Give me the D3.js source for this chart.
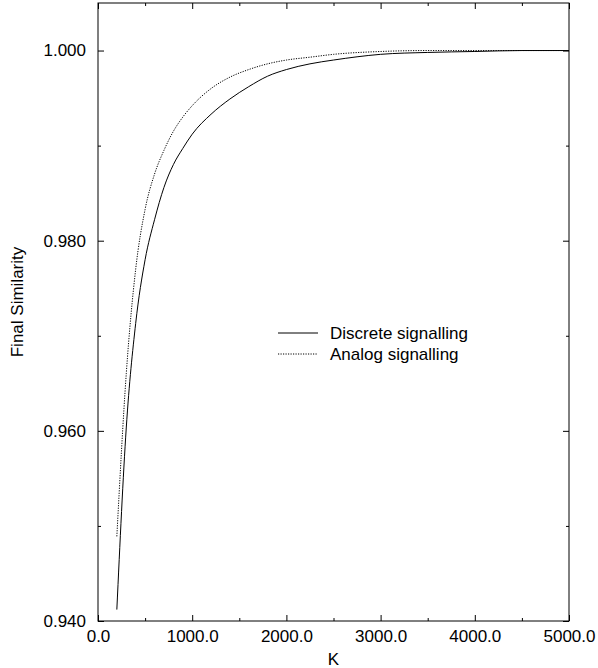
<!DOCTYPE html>
<html>
<head>
<meta charset="utf-8">
<script src="https://cdn.jsdelivr.net/npm/d3@7"></script>
<style>
  html, body { margin: 0; padding: 0; background: #fff; }
  svg { display: block; font-family: "Liberation Sans", Arial, sans-serif; }
</style>
</head>
<body>
<svg width="598" height="668"></svg>
<script>
"use strict";

// K values (x) and the two series
const kValues = [200, 300, 400, 500, 600, 700, 800, 900, 1000, 1200, 1400, 1600,
                 1800, 2000, 2250, 2500, 3000, 3500, 4000, 4500, 5000];
const discrete = [0.9412, 0.9603, 0.9713, 0.9780, 0.9822, 0.9856, 0.9880, 0.9897,
                  0.9912, 0.9933, 0.9949, 0.9962, 0.9973, 0.9980, 0.9986, 0.9990,
                  0.9996, 0.9998, 0.9999, 1.0000, 1.0000];
const analog = [0.9489, 0.9660, 0.9770, 0.9833, 0.9870, 0.9895, 0.9915, 0.9930,
                0.9942, 0.9960, 0.9972, 0.9980, 0.9986, 0.9990, 0.9993, 0.9996,
                0.9999, 1.0000, 1.0000, 1.0000, 1.0000];
const seriesNames = ["Discrete signalling", "Analog signalling"];

const xMajor = [0, 1000, 2000, 3000, 4000, 5000];
const xMinor = [500, 1500, 2500, 3500, 4500];
const yMajor = [0.94, 0.96, 0.98, 1.0];
const yMinor = [0.95, 0.97, 0.99];

const plotL = 98, plotR = 569, plotT = 3, plotB = 621;

const svg = d3.select("svg");

const xScale = d3.scaleLinear().domain([0, 5000]).range([plotL, plotR]);
const yScale = d3.scaleLinear().domain([0.94, 1.005]).range([plotB, plotT]);

function styleAxis(g) {
    g.select(".domain").remove();
    g.selectAll("line").attr("stroke", "#000").attr("stroke-width", 1);
    g.selectAll("text").attr("fill", "#000").attr("font-size", 17)
        .attr("font-family", "'Liberation Sans', Arial, sans-serif");
}

// bottom: labelled major ticks + minor ticks
svg.append("g")
    .attr("transform", `translate(0,${plotB})`)
    .call(d3.axisBottom(xScale).tickValues(xMajor).tickSizeInner(-6).tickSizeOuter(0)
        .tickPadding(9).tickFormat(d3.format(".1f")))
    .call(styleAxis);
svg.append("g")
    .attr("transform", `translate(0,${plotB})`)
    .call(d3.axisBottom(xScale).tickValues(xMinor).tickSizeInner(-3).tickSizeOuter(0).tickFormat(""))
    .call(styleAxis);

// top mirror ticks
svg.append("g")
    .attr("transform", `translate(0,${plotT})`)
    .call(d3.axisTop(xScale).tickValues(xMajor).tickSizeInner(-6).tickSizeOuter(0).tickFormat(""))
    .call(styleAxis);
svg.append("g")
    .attr("transform", `translate(0,${plotT})`)
    .call(d3.axisTop(xScale).tickValues(xMinor).tickSizeInner(-3).tickSizeOuter(0).tickFormat(""))
    .call(styleAxis);

// left axis
svg.append("g")
    .attr("transform", `translate(${plotL},0)`)
    .call(d3.axisLeft(yScale).tickValues(yMajor).tickSizeInner(-6).tickSizeOuter(0)
        .tickPadding(12).tickFormat(d3.format(".3f")))
    .call(styleAxis);
svg.append("g")
    .attr("transform", `translate(${plotL},0)`)
    .call(d3.axisLeft(yScale).tickValues(yMinor).tickSizeInner(-3).tickSizeOuter(0).tickFormat(""))
    .call(styleAxis);

// right mirror ticks
svg.append("g")
    .attr("transform", `translate(${plotR},0)`)
    .call(d3.axisRight(yScale).tickValues(yMajor).tickSizeInner(-6).tickSizeOuter(0).tickFormat(""))
    .call(styleAxis);
svg.append("g")
    .attr("transform", `translate(${plotR},0)`)
    .call(d3.axisRight(yScale).tickValues(yMinor).tickSizeInner(-3).tickSizeOuter(0).tickFormat(""))
    .call(styleAxis);

// frame
svg.append("rect")
    .attr("x", plotL).attr("y", plotT)
    .attr("width", plotR - plotL).attr("height", plotB - plotT)
    .attr("fill", "none").attr("stroke", "#000").attr("stroke-width", 1);

// lines
const line = d3.line()
    .x((d, i) => xScale(kValues[i]))
    .y(d => yScale(d))
    .curve(d3.curveMonotoneX);

svg.append("path")
    .datum(discrete)
    .attr("d", line)
    .attr("fill", "none").attr("stroke", "#000").attr("stroke-width", 1);

svg.append("path")
    .datum(analog)
    .attr("d", line)
    .attr("fill", "none").attr("stroke", "#000").attr("stroke-width", 1)
    .attr("stroke-dasharray", "1.2,1.3");

// legend
const legend = svg.append("g");
[0, 1].forEach(i => {
    const yy = 333 + i * 21;
    legend.append("line")
        .attr("x1", 278).attr("x2", 318).attr("y1", yy).attr("y2", yy)
        .attr("stroke", "#000").attr("stroke-width", 1)
        .attr("stroke-dasharray", i === 1 ? "1.2,1.3" : null);
    legend.append("text")
        .attr("x", 330).attr("y", yy + 6)
        .attr("font-size", 17)
        .text(seriesNames[i]);
});

// axis titles
svg.append("text")
    .attr("x", (plotL + plotR) / 2).attr("y", 665)
    .attr("text-anchor", "middle").attr("font-size", 17)
    .text("K");

svg.append("text")
    .attr("transform", "translate(23,302) rotate(-90)")
    .attr("text-anchor", "middle").attr("font-size", 17)
    .text("Final Similarity");
</script>
</body>
</html>
